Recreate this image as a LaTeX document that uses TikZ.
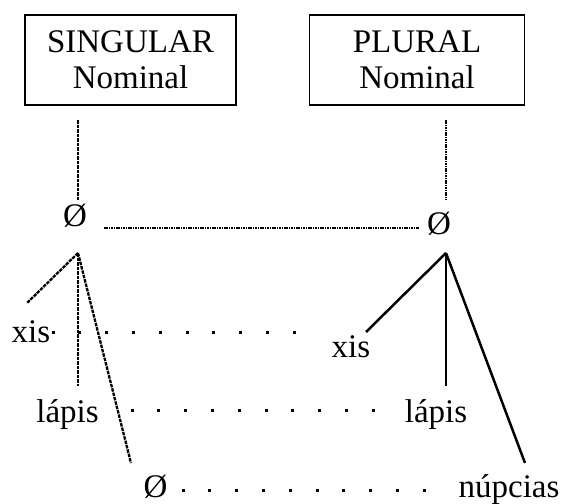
\documentclass[tikz,border=0pt]{standalone}
\usepackage{fontspec}
\setmainfont{Liberation Serif}

\tikzstyle{box}=[draw=black, line width=1.4pt, minimum width=211pt, minimum height=90pt, align=center, inner sep=0pt]
\tikzstyle{word}=[inner sep=0pt, anchor=base]
\tikzstyle{dashEdgeStyle}=[line width=2.3pt, dash pattern=on 3.5pt off 1pt]
\tikzstyle{dotEdgeStyle}=[line width=2.3pt, dash pattern=on 1.6pt off 0.8pt]
\tikzstyle{solidEdgeStyle}=[line width=2.5pt]

\begin{document}
\begin{tikzpicture}[x=1pt, y=-1pt, font=\fontsize{33}{36}\selectfont]
	\useasboundingbox (0,0) rectangle (563,504);

	% Kaesten
	\node(sing) at (130.5,60) [box] {SINGULAR\\Nominal};
	\node(plur) at (417,60) [box, minimum width=215pt] {PLURAL\\Nominal};

	% Woerter
	\node(nullL) at (75,226) [word] {Ø};
	\node(nullR) at (439,234) [word] {Ø};
	\node(xisL) at (31,342) [word] {xis};
	\node(xisR) at (351,357) [word] {xis};
	\node(lapisL) at (67.5,422) [word] {lápis};
	\node(lapisR) at (436,422) [word] {lápis};
	\node(nullB) at (155.5,497) [word] {Ø};
	\node(nupcias) at (509,497) [word] {núpcias};

	% Endpunkte der Linien
	\coordinate (singFoot) at (78,120);
	\coordinate (nullLTop) at (78,200);
	\coordinate (plurFoot) at (446,120);
	\coordinate (nullRTop) at (446,200);
	\coordinate (linkL) at (104,228);
	\coordinate (linkR) at (419,228);
	\coordinate (apexL) at (78,253);
	\coordinate (apexR) at (446,253);
	\coordinate (xisLEnd) at (27,303);
	\coordinate (lapisLEnd) at (78,386);
	\coordinate (nullBEnd) at (131,463);
	\coordinate (xisREnd) at (366,332);
	\coordinate (lapisREnd) at (446,386);
	\coordinate (nupciasEnd) at (525,463);

	\draw[dashEdgeStyle] (singFoot) -- (nullLTop);
	\draw[dotEdgeStyle] (plurFoot) -- (nullRTop);
	\draw[dotEdgeStyle] (linkL) -- (linkR);

	% linker Baum
	\draw[dashEdgeStyle] (apexL) -- (xisLEnd);
	\draw[dashEdgeStyle] (apexL) -- (lapisLEnd);
	\draw[dashEdgeStyle] (apexL) -- (nullBEnd);

	% rechter Baum
	\draw[solidEdgeStyle] (apexR) -- (xisREnd);
	\draw[solidEdgeStyle] (apexR) -- (lapisREnd);
	\draw[solidEdgeStyle] (apexR) -- (nupciasEnd);

	% Punktreihen
	\coordinate (rowXis) at (53,332);
	\coordinate (rowLapis) at (132,410);
	\coordinate (rowNull) at (183,490);
	\foreach \row in {rowXis, rowLapis, rowNull}
		\foreach \i in {0,...,9}
			\fill (\row) ++(\i*26.8-1.5,-1.5) rectangle ++(3,3);

\end{tikzpicture}
\end{document}
